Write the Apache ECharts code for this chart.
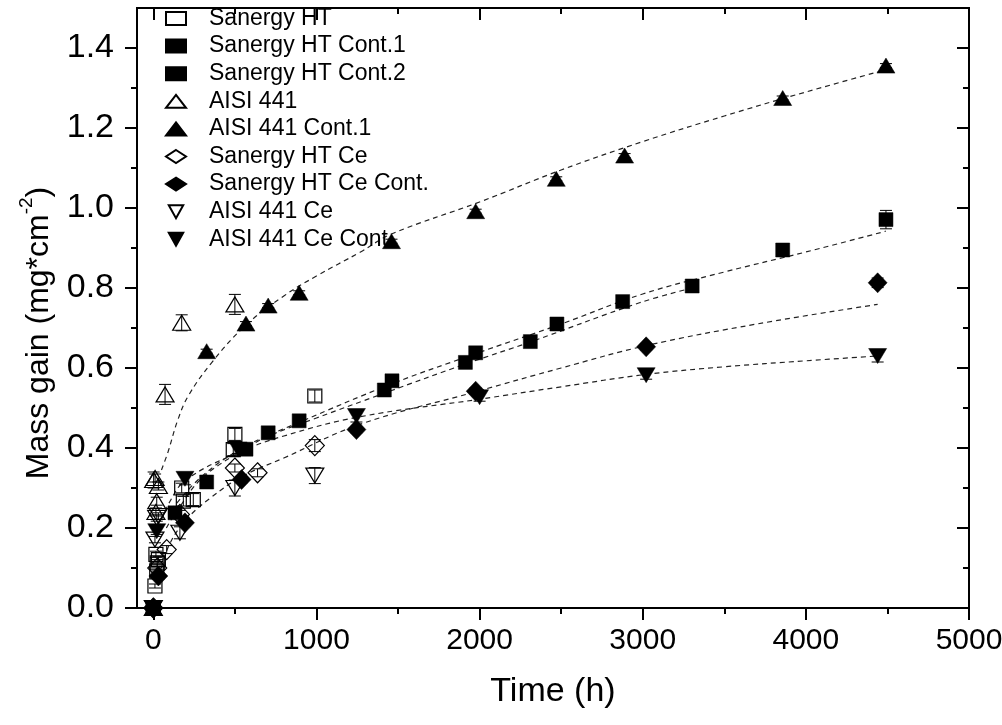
<!DOCTYPE html>
<html>
<head>
<meta charset="utf-8">
<script src="https://cdn.jsdelivr.net/npm/echarts@6/dist/echarts.min.js"></script>
<style>
html,body{margin:0;padding:0;background:#fff;}
#c{width:1002px;height:725px;}
</style>
</head>
<body>
<div id="c"></div>
<script>
// ---- data: [time (h), mass gain (mg/cm2), error] ----
const sanergyHT = [[0,0,0],[10,0.055,0.005],[21,0.092,0.008],[24,0.113,0.008],[31,0.121,0.008],[16,0.134,0.008],[174,0.30,0.012],[184,0.267,0.012],[245,0.271,0.015],[490,0.396,0.015],[500,0.434,0.015],[990,0.53,0.015]];
const sanergyHTCont1 = [[0,0,0],[327,0.315,0.008],[568,0.397,0.008],[894,0.468,0.008],[1463,0.568,0.008],[1976,0.638,0.008],[2474,0.71,0.008],[2877,0.766,0.01],[3858,0.895,0.012],[4491,0.971,0.023]];
const sanergyHTCont2 = [[0,0,0],[133,0.238,0.008],[704,0.438,0.008],[1416,0.545,0.008],[1913,0.614,0.008],[2311,0.666,0.008],[3303,0.805,0.008]];
const aisi441 = [[0,0,0],[2,0.32,0.02],[11,0.325,0.01],[31,0.305,0.01],[21,0.267,0.01],[16,0.24,0.01],[72,0.534,0.025],[174,0.713,0.02],[500,0.759,0.025]];
const aisi441Cont1 = [[0,0,0],[327,0.642,0.005],[568,0.711,0.005],[704,0.756,0.005],[894,0.788,0.005],[1460,0.917,0.005],[1976,0.992,0.005],[2470,1.073,0.005],[2889,1.131,0.005],[3858,1.275,0.005],[4491,1.356,0.005]];
const sanergyHTCe = [[0,0,0],[24,0.10,0.01],[82,0.146,0.01],[163,0.234,0.01],[500,0.35,0.01],[639,0.338,0.01],[990,0.406,0.015]];
const sanergyHTCeCont = [[0,0,0],[31,0.08,0.008],[194,0.213,0.008],[541,0.321,0.008],[1245,0.446,0.008],[1976,0.542,0.008],[3021,0.653,0.008],[4440,0.813,0.012]];
const aisi441Ce = [[0,0,0],[10,0.171,0.008],[21,0.225,0.008],[31,0.23,0.008],[163,0.188,0.015],[500,0.30,0.02],[990,0.331,0.02]];
const aisi441CeCont = [[0,0,0],[21,0.192,0.008],[194,0.323,0.015],[520,0.396,0.01],[1245,0.48,0.015],[2000,0.527,0.01],[3021,0.582,0.01],[4440,0.63,0.015]];

// ---- fitted curves ----
const fitAisi441Cont1 = [[50,0.345],[90,0.39],[150,0.47],[214,0.53],[357,0.613],[562,0.705],[800,0.78],[1000,0.83],[1270,0.89],[1460,0.935],[2000,1.015],[2500,1.095],[3000,1.166],[3500,1.23],[4000,1.29],[4530,1.35]];
const fitSanergyCont1 = [[110,0.245],[300,0.33],[570,0.405],[900,0.465],[1460,0.56],[1970,0.635],[2500,0.71],[3000,0.785],[3500,0.84],[4000,0.89],[4490,0.942]];
const fitSanergyCont2 = [[80,0.2],[133,0.235],[300,0.325],[572,0.40],[707,0.43],[1000,0.475],[1416,0.537],[1913,0.61],[2311,0.665],[2980,0.763],[3303,0.80]];
const fitSanergyCeCont = [[50,0.10],[100,0.16],[200,0.22],[350,0.275],[550,0.33],[800,0.375],[1266,0.459],[1980,0.541],[2500,0.60],[3022,0.656],[3700,0.71],[4440,0.759]];
const fitAisiCeCont = [[30,0.20],[100,0.265],[200,0.32],[500,0.385],[800,0.43],[1266,0.478],[2000,0.522],[2500,0.553],[3022,0.584],[3500,0.603],[4000,0.618],[4440,0.63]];

// ---- axis ticks ----
const xMajorTicks = [0,1000,2000,3000,4000,5000];
const xMinorTicks = [500,1500,2500,3500,4500];
const yMajorTicks = [0,0.2,0.4,0.6,0.8,1.0,1.2,1.4];
const yMinorTicks = [0.1,0.3,0.5,0.7,0.9,1.1,1.3];

const seriesNames = ['Sanergy HT','Sanergy HT Cont.1','Sanergy HT Cont.2','AISI 441','AISI 441 Cont.1','Sanergy HT Ce','Sanergy HT Ce Cont.','AISI 441 Ce','AISI 441 Ce Cont.'];

const FONT = 'Liberation Sans, Arial, Helvetica, sans-serif';
const DOWN = 'path://M0,0L10,0L5,9Z';
const openStyle = {color:'rgba(255,255,255,0)', borderColor:'#000', borderWidth:1.2, opacity:1};
const fillStyle = {color:'#000', borderColor:'#000', borderWidth:0.5, opacity:1};

const scatterDefs = [
  {name:seriesNames[0], data:sanergyHT, symbol:'rect', size:14, style:openStyle},
  {name:seriesNames[1], data:sanergyHTCont1, symbol:'rect', size:14, style:fillStyle},
  {name:seriesNames[2], data:sanergyHTCont2, symbol:'rect', size:14, style:fillStyle},
  {name:seriesNames[3], data:aisi441, symbol:'triangle', size:[18,15], style:openStyle},
  {name:seriesNames[4], data:aisi441Cont1, symbol:'triangle', size:[18,15], style:fillStyle},
  {name:seriesNames[5], data:sanergyHTCe, symbol:'diamond', size:[19,20], style:openStyle},
  {name:seriesNames[6], data:sanergyHTCeCont, symbol:'diamond', size:[19,20], style:fillStyle},
  {name:seriesNames[7], data:aisi441Ce, symbol:DOWN, size:[18,15], style:openStyle},
  {name:seriesNames[8], data:aisi441CeCont, symbol:DOWN, size:[18,15], style:fillStyle}
];

const fits = [fitAisi441Cont1, fitSanergyCont1, fitSanergyCont2, fitSanergyCeCont, fitAisiCeCont];

const series = [];
fits.forEach(f => series.push({
  type:'line', data:f, smooth:0.4, showSymbol:false, symbol:'none', silent:true, z:1,
  lineStyle:{color:'#222', width:1.2, type:[5,4]}
}));
scatterDefs.forEach(d => {
  series.push({
    type:'custom', silent:true, z:2, data:d.data,
    encode:{x:0, y:1},
    renderItem:function(params, api){
      const x = api.value(0), y = api.value(1), e = api.value(2);
      if (!e) return null;
      const p1 = api.coord([x, y + e]), p2 = api.coord([x, y - e]);
      const w = 6;
      const st = {stroke:'#000', lineWidth:1};
      return {type:'group', children:[
        {type:'line', shape:{x1:p1[0], y1:p1[1], x2:p2[0], y2:p2[1]}, style:st},
        {type:'line', shape:{x1:p1[0]-w, y1:p1[1], x2:p1[0]+w, y2:p1[1]}, style:st},
        {type:'line', shape:{x1:p2[0]-w, y1:p2[1], x2:p2[0]+w, y2:p2[1]}, style:st}
      ]};
    }
  });
  series.push({
    type:'scatter', name:d.name, data:d.data, symbol:d.symbol, symbolSize:d.size,
    itemStyle:d.style, z:3, encode:{x:0, y:1}
  });
});

const axisLineStyle = {color:'#000', width:2};
const mkX = (pos, ticks, len, inside, labels, extra) => Object.assign({
  type:'value', position:pos, min:-100, max:5000,
  axisLine:{show:true, onZero:false, lineStyle:axisLineStyle},
  axisTick:{show:true, customValues:ticks, length:len, inside:inside, lineStyle:{color:'#000', width:2}},
  axisLabel: labels ? {customValues:labels, fontSize:30, color:'#000', fontFamily:FONT, margin:18, formatter:v=>String(Math.round(v))} : {show:false},
  splitLine:{show:false}
}, extra||{});
const mkY = (pos, ticks, len, inside, labels, extra) => Object.assign({
  type:'value', position:pos, min:0, max:1.5,
  axisLine:{show:true, onZero:false, lineStyle:axisLineStyle},
  axisTick:{show:true, customValues:ticks, length:len, inside:inside, lineStyle:{color:'#000', width:2}},
  axisLabel: labels ? {customValues:labels, fontSize:34, color:'#000', fontFamily:FONT, margin:23, formatter:v=>Number(v).toFixed(1)} : {show:false},
  splitLine:{show:false}
}, extra||{});

const option = {
  backgroundColor:'#fff',
  animation:false,
  grid:{left:137, right:33, top:8, bottom:117, containLabel:false, outerBoundsMode:'none'},
  legend:{
    data:seriesNames, orient:'vertical', left:160, top:2,
    itemWidth:20, itemHeight:13, itemGap:4.6, selectedMode:false,
    textStyle:{fontSize:23, color:'#000', fontFamily:FONT, lineHeight:22, padding:[0,0,0,18]}
  },
  xAxis:[
    mkX('bottom', xMajorTicks, 12, false, xMajorTicks, {name:'Time (h)', nameLocation:'middle', nameGap:67, nameTextStyle:{fontSize:34, color:'#000', fontFamily:FONT}}),
    mkX('bottom', xMinorTicks, 6, false, null),
    mkX('top', xMajorTicks, 12, true, null),
    mkX('top', xMinorTicks, 6, true, null)
  ],
  yAxis:[
    mkY('left', yMajorTicks, 12, false, yMajorTicks, {
      name:'{a|Mass gain (mg*cm}{s|-2}{a|)}', nameLocation:'middle', nameGap:82, nameRotate:90,
      nameTextStyle:{color:'#000', fontFamily:FONT, padding:[0,50,0,0], rich:{
        a:{fontSize:32, fontFamily:FONT, color:'#000', lineHeight:38, verticalAlign:'bottom'},
        s:{fontSize:19, fontFamily:FONT, color:'#000', lineHeight:38, verticalAlign:'top', padding:[0,0,16,0]}
      }}
    }),
    mkY('left', yMinorTicks, 6, false, null),
    mkY('right', yMajorTicks, 12, true, null),
    mkY('right', yMinorTicks, 6, true, null)
  ],
  series:series
};

const chart = echarts.init(document.getElementById('c'), null, {renderer:'canvas'});
chart.setOption(option);
</script>
</body>
</html>
